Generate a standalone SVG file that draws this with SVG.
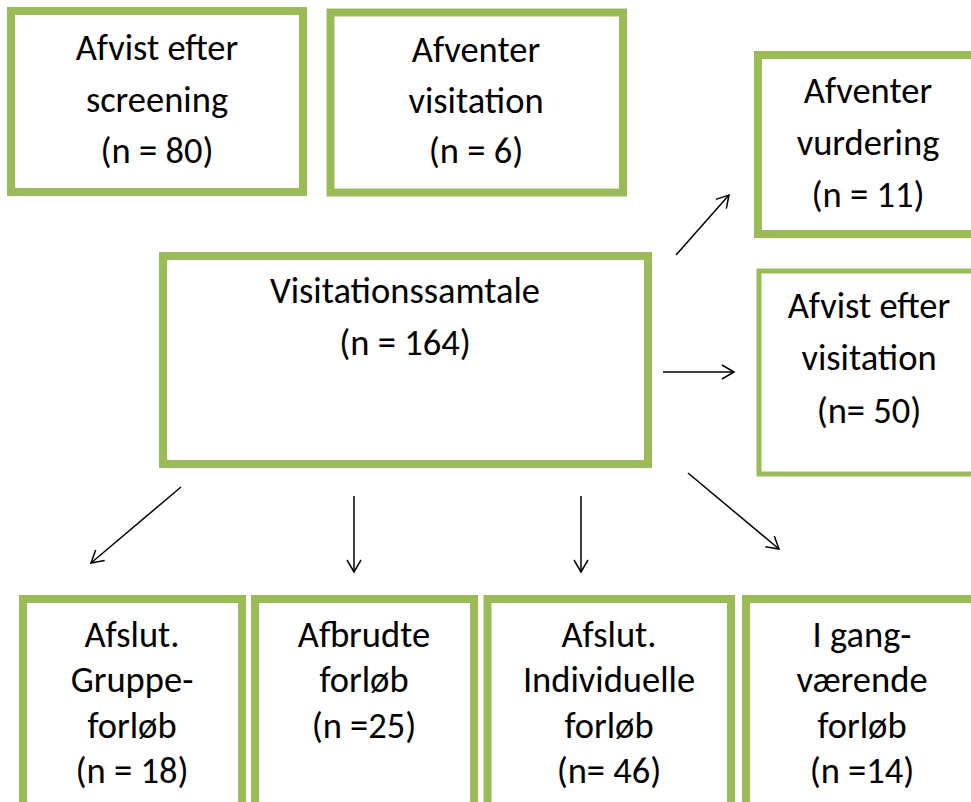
<svg xmlns="http://www.w3.org/2000/svg" width="971" height="802" viewBox="0 0 971 802">
<style>
.box{fill:#fff;stroke:#9BBB59;stroke-width:8}
.thin{stroke-width:5}
text{font-family:Calibri,Carlito,"Liberation Sans",Arial,sans-serif;font-size:36.5px;fill:#000;text-anchor:middle}
.c{stroke:#000;stroke-width:1.5;fill:none;marker-end:url(#ah)}
</style>
<defs>
<marker id="ah" markerUnits="userSpaceOnUse" viewBox="-14 -9 16 18" refX="0" refY="0" markerWidth="16" markerHeight="18" orient="auto">
<path d="M-12,-7 L0,0 L-12,7" fill="none" stroke="#000" stroke-width="1.5"/>
</marker>
</defs>
<rect width="971" height="802" fill="#fff"/>
<g id="afvist-screening">
<rect class="box" x="11" y="11" width="292" height="181"/>
<text x="157" y="60">Afvist efter</text>
<text x="157" y="112">screening</text>
<text x="157" y="163">(n = 80)</text>
</g>
<g id="afventer-visitation">
<rect class="box" x="330.5" y="12.5" width="292.5" height="180"/>
<text x="476" y="62">Afventer</text>
<text x="476" y="113">visitation</text>
<text x="476" y="163">(n = 6)</text>
</g>
<g id="afventer-vurdering">
<rect class="box" x="758" y="55" width="230" height="179"/>
<text x="868" y="103">Afventer</text>
<text x="868" y="155">vurdering</text>
<text x="868" y="207">(n = 11)</text>
</g>
<g id="afvist-visitation">
<rect class="box thin" x="759" y="271" width="230" height="203"/>
<text x="869" y="318">Afvist efter</text>
<text x="869" y="370">visitation</text>
<text x="869" y="423">(n= 50)</text>
</g>
<g id="visitationssamtale">
<rect class="box" x="163" y="256" width="485" height="208"/>
<text x="405" y="303">Visitationssamtale</text>
<text x="405" y="355">(n = 164)</text>
</g>
<g id="gruppe">
<rect class="box" x="23" y="599" width="219" height="230"/>
<text x="132" y="647">Afslut.</text>
<text x="132" y="692">Gruppe-</text>
<text x="132" y="738">forløb</text>
<text x="132" y="783">(n = 18)</text>
</g>
<g id="afbrudte">
<rect class="box" x="255" y="599" width="219" height="230"/>
<text x="364" y="647">Afbrudte</text>
<text x="364" y="692">forløb</text>
<text x="364" y="738">(n =25)</text>
</g>
<g id="individuelle">
<rect class="box" x="487.5" y="599" width="243.5" height="230"/>
<text x="609" y="647">Afslut.</text>
<text x="609" y="692">Individuelle</text>
<text x="609" y="738">forløb</text>
<text x="609" y="783">(n= 46)</text>
</g>
<g id="igang">
<rect class="box" x="746" y="599" width="240" height="230"/>
<text x="862" y="647">I gang-</text>
<text x="862" y="692">værende</text>
<text x="862" y="738">forløb</text>
<text x="862" y="783">(n =14)</text>
</g>
<g id="connectors">
<line class="c" x1="676" y1="255" x2="729" y2="195"/>
<line class="c" x1="663" y1="372" x2="734" y2="372"/>
<line class="c" x1="181" y1="487" x2="91" y2="563"/>
<line class="c" x1="354" y1="496" x2="354" y2="572"/>
<line class="c" x1="581" y1="496" x2="581" y2="572"/>
<line class="c" x1="688" y1="473" x2="779" y2="549"/>
</g>
</svg>
